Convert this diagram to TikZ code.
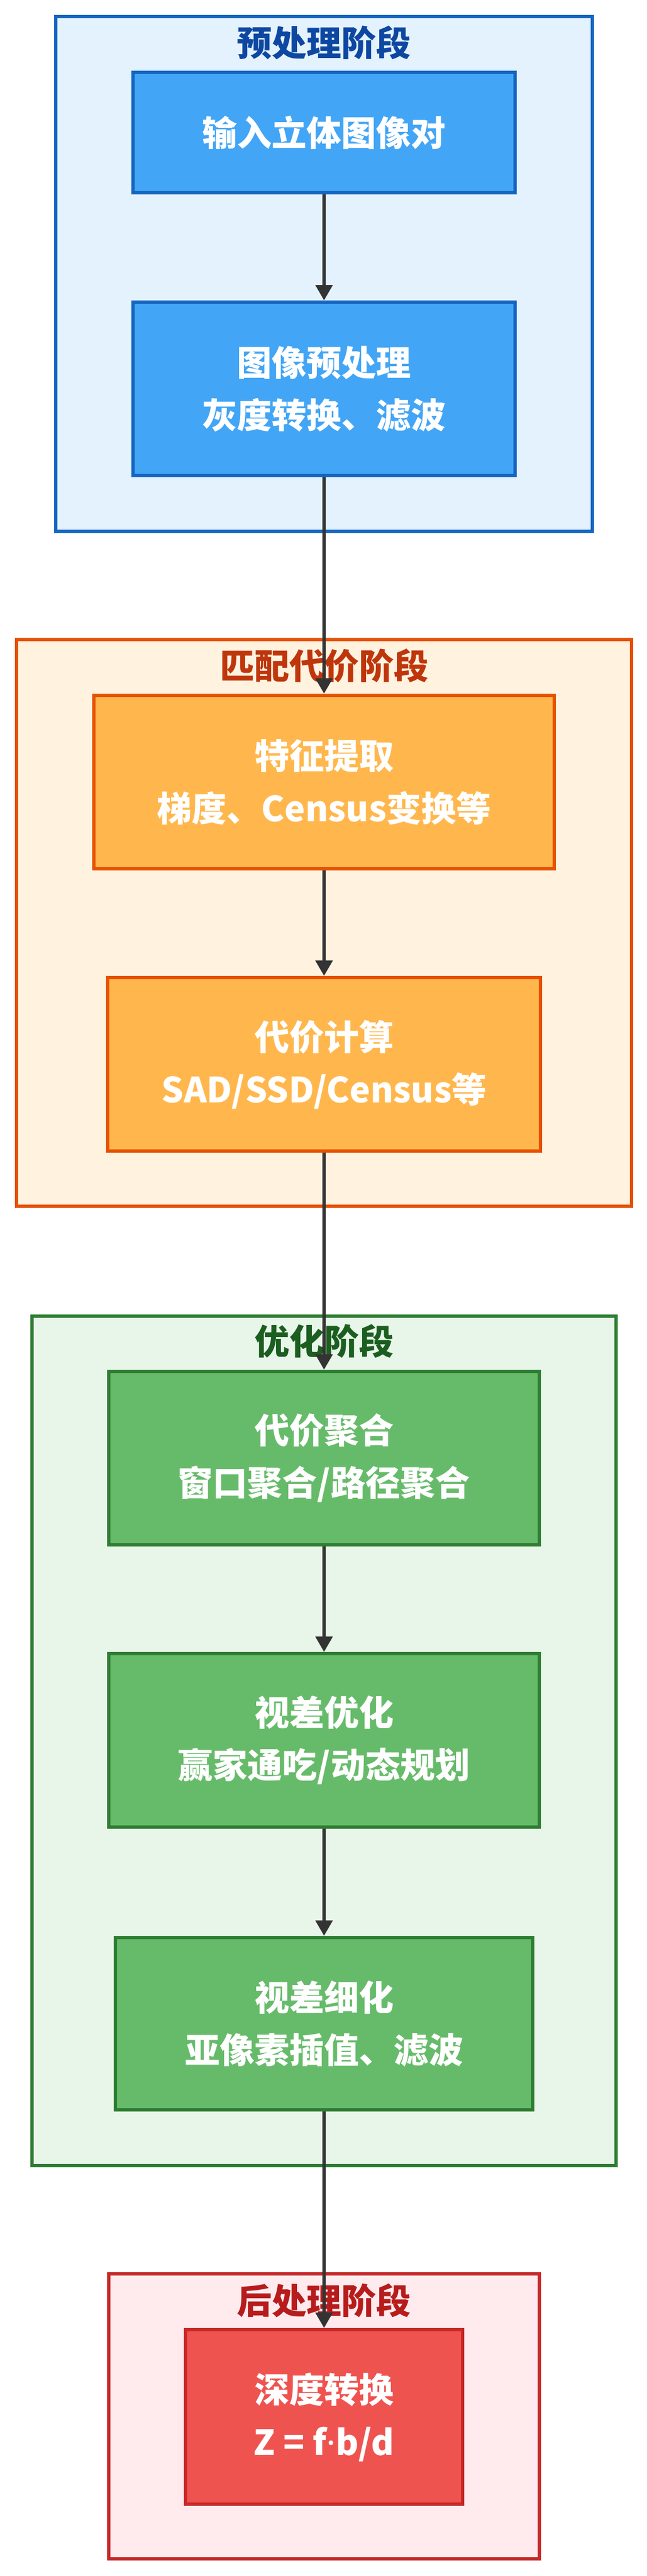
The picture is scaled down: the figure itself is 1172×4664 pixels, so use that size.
\documentclass[tikz,border=0pt]{standalone}
\usepackage{fontspec}
\newfontfamily\zhfont{Noto Sans CJK SC}
\newfontfamily\latinfont{Noto Sans}
\usepackage{tikz}
\usetikzlibrary{positioning,arrows.meta}
\definecolor{preFill}{HTML}{E3F2FD}
\definecolor{preLine}{HTML}{1565C0}
\definecolor{preNode}{HTML}{42A5F5}
\definecolor{preText}{HTML}{0D47A1}
\definecolor{costFill}{HTML}{FFF3E0}
\definecolor{costLine}{HTML}{E65100}
\definecolor{costNode}{HTML}{FFB74D}
\definecolor{costText}{HTML}{BF360C}
\definecolor{optFill}{HTML}{E8F5E9}
\definecolor{optLine}{HTML}{2E7D32}
\definecolor{optNode}{HTML}{66BB6A}
\definecolor{optText}{HTML}{1B5E20}
\definecolor{postFill}{HTML}{FFEBEE}
\definecolor{postLine}{HTML}{C62828}
\definecolor{postNode}{HTML}{EF5350}
\definecolor{postText}{HTML}{B71C1C}
\definecolor{arrowGray}{HTML}{333333}

\begin{document}
\begin{tikzpicture}[x=0.5pt,y=-0.5pt,
    stage/.style={draw,line width=3pt,inner sep=0pt},
    stagetitle/.style={inner sep=0pt,font=\zhfont\bfseries\fontsize{31.5}{47.5}\selectfont},
    stepbox/.style={draw,line width=3pt,inner sep=0pt,text=white,align=center,
        font=\zhfont\bfseries\fontsize{31.5}{47.5}\selectfont},
    flow/.style={draw=arrowGray,line width=3.3pt,-{Triangle[length=14pt,width=15pt]}}]
\useasboundingbox (0,0) rectangle (1172,4664);

% stage frames
\node[stage,fill=preFill,draw=preLine,minimum width=486pt,minimum height=466pt] (pre) at (587,496) {};
\node[stage,fill=costFill,draw=costLine,minimum width=557pt,minimum height=513pt] (cost) at (587,1671) {};
\node[stage,fill=optFill,draw=optLine,minimum width=529pt,minimum height=769pt] (opt) at (587,3152) {};
\node[stage,fill=postFill,draw=postLine,minimum width=390pt,minimum height=258pt] (post) at (587,4375) {};

% stage titles
\node[stagetitle,text=preText] (preTitle) at (587,77) {预处理阶段};
\node[stagetitle,text=costText] (costTitle) at (587,1205) {匹配代价阶段};
\node[stagetitle,text=optText] (optTitle) at (587,2428) {优化阶段};
\node[stagetitle,text=postText] (postTitle) at (587,4165) {后处理阶段};

% steps
\node[stepbox,fill=preNode,draw=preLine,minimum width=346pt,minimum height=109pt] (input) at (587,240) {输入立体图像对};
\node[stepbox,fill=preNode,draw=preLine,minimum width=346pt,minimum height=157pt] (prep) at (587,704) {图像预处理\\灰度转换、滤波};
\node[stepbox,fill=costNode,draw=costLine,minimum width=417pt,minimum height=157pt] (feat) at (587,1416) {特征提取\\梯度、Census变换等};
\node[stepbox,fill=costNode,draw=costLine,minimum width=392pt,minimum height=157pt] (calc) at (587,1927) {代价计算\\SAD/SSD/Census等};
\node[stepbox,fill=optNode,draw=optLine,minimum width=390pt,minimum height=157pt] (aggr) at (587,2640) {代价聚合\\窗口聚合/路径聚合};
\node[stepbox,fill=optNode,draw=optLine,minimum width=390pt,minimum height=157pt] (disp) at (587,3151) {视差优化\\赢家通吃/动态规划};
\node[stepbox,fill=optNode,draw=optLine,minimum width=378pt,minimum height=156pt] (refine) at (587,3664) {视差细化\\亚像素插值、滤波};
\node[stepbox,fill=postNode,draw=postLine,minimum width=251pt,minimum height=158pt] (depth) at (587,4376) {深度转换\\Z = f{\latinfont\bfseries ·}b/d};

% flow
\foreach \a/\b in {input/prep,prep/feat,feat/calc,calc/aggr,aggr/disp,disp/refine,refine/depth}
    \draw[flow] (\a) -- (\b);
\end{tikzpicture}
\end{document}
